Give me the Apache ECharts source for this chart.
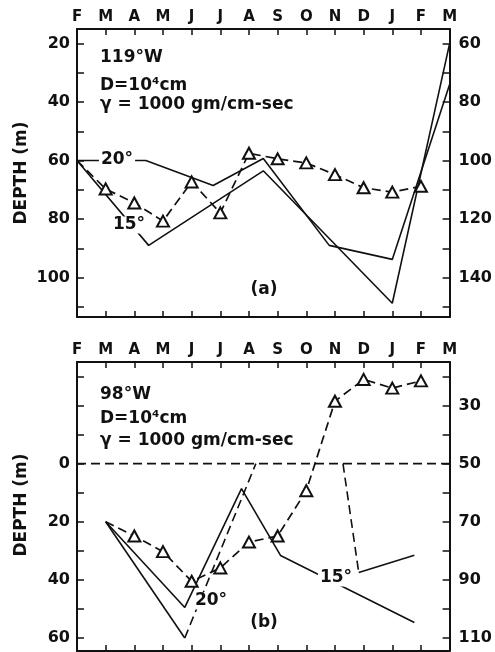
<!DOCTYPE html>
<html>
<head>
<meta charset="utf-8">
<script src="https://cdn.jsdelivr.net/npm/echarts@6/dist/echarts.min.js"></script>
<style>
  html, body { margin: 0; padding: 0; background: #fff; }
  #chart { width: 495px; height: 652px; }
</style>
</head>
<body>
<div id="chart"></div>
<script>
// Month labels along the top of each panel (index 0 = February ... 13 = March)
const months = ['F', 'M', 'A', 'M', 'J', 'J', 'A', 'S', 'O', 'N', 'D', 'J', 'F', 'M'];

// (a) 119°W — depths in metres, x = month index
const triangles119 = [60, 69.7, 74.5, 80.7, 67.3, 77.9, 57.5, 59.4, 60.8, 64.8, 69.3, 70.8, 68.8]; // months 0..12
const iso20_119 = [[0, 60], [2.4, 60], [4.75, 68.5], [6.5, 59.3], [8.8, 89], [11, 93.8], [13, 34]];
const iso15_119 = [[0, 60], [2.5, 89], [6.5, 63.5], [11, 108.8], [13, 20]];

// (b) 98°W
const triangles98 = [20, 24.9, 30.3, 40.5, 35.9, 27, 24.9, 9.3, -21.5, -29, -26, -28.5]; // months 1..12
const iso15_98 = [[1, 20], [3.76, 49.5], [5.74, 8.6], [7.1, 31.6], [11.77, 54.7]];
const iso20_98 = [[1, 20], [3.76, 60], [6.24, 0], [9.28, 0], [9.83, 37.5], [11.77, 31.5]];
const iso20_98Segments = ['solid', 'dashed', 'none', 'dashed', 'solid'];
const surface98 = [[0, 0], [13, 0]];

// Depth scales: left axis and the right-hand scale of each panel
const leftTicks119 = [20, 30, 40, 50, 60, 70, 80, 90, 100, 110];
const leftLabels119 = [20, 40, 60, 80, 100];
const rightTicks119 = [60, 70, 80, 90, 100, 110, 120, 130, 140, 150];
const rightLabels119 = [60, 80, 100, 120, 140];
const leftTicks98 = [-30, -20, -10, 0, 10, 20, 30, 40, 50, 60];
const leftLabels98 = [0, 20, 40, 60];
const rightTicks98 = [20, 30, 40, 50, 60, 70, 80, 90, 100, 110];
const rightLabels98 = [30, 50, 70, 90, 110];

const FONT = '"DejaVu Sans", sans-serif';
const INK = '#111';
const DASH = [9, 5];

function monthAxis(grid, pos, showLabels) {
  return {
    type: 'value', gridIndex: grid, position: pos, min: 0, max: 13, interval: 1,
    axisLine: { show: true, onZero: false, lineStyle: { color: INK, width: 2 } },
    axisTick: { show: true, inside: true, length: 6, lineStyle: { color: INK, width: 1.5 } },
    axisLabel: {
      show: showLabels, margin: 4, color: INK, fontFamily: FONT, fontWeight: 'bold', fontSize: 15,
      formatter: v => months[Math.round(v)]
    },
    splitLine: { show: false }
  };
}

function depthAxis(grid, pos, min, max, ticks, labels) {
  return {
    type: 'value', gridIndex: grid, position: pos, inverse: true, min: min, max: max,
    axisLine: { show: true, onZero: false, lineStyle: { color: INK, width: 2 } },
    axisTick: { show: true, inside: true, length: 7, customValues: ticks, lineStyle: { color: INK, width: 1.5 } },
    axisLabel: {
      customValues: labels, margin: pos === 'left' ? 7 : 9, color: INK,
      fontFamily: FONT, fontWeight: 'bold', fontSize: 16
    },
    splitLine: { show: false }
  };
}

function lineSeries(xAxis, yAxis, data, type, z) {
  return {
    type: 'line', xAxisIndex: xAxis, yAxisIndex: yAxis, data: data, symbol: 'none',
    silent: true, animation: false, z: z || 2,
    lineStyle: { color: INK, width: 1.6, type: type === 'dashed' ? DASH : 'solid' }
  };
}

function triangleSeries(xAxis, yAxis, values, startMonth) {
  return {
    type: 'line', xAxisIndex: xAxis, yAxisIndex: yAxis, animation: false, silent: true, z: 4,
    data: values.map((v, i) => i === 0
      ? { value: [startMonth + i, v], symbol: 'none' }
      : { value: [startMonth + i, v] }),
    symbol: 'triangle', symbolSize: [12, 11],
    itemStyle: { color: '#fff', borderColor: INK, borderWidth: 2 },
    lineStyle: { color: INK, width: 1.7, type: DASH }
  };
}

const series = [
  lineSeries(0, 0, iso20_119, 'solid'),
  lineSeries(0, 0, iso15_119, 'solid'),
  triangleSeries(0, 0, triangles119, 0),
  lineSeries(2, 2, iso15_98, 'solid'),
  lineSeries(2, 2, surface98, 'dashed'),
  triangleSeries(2, 2, triangles98, 1)
];
iso20_98Segments.forEach((style, i) => {
  if (style !== 'none') series.push(lineSeries(2, 2, [iso20_98[i], iso20_98[i + 1]], style));
});

function label(text, x, y, opts) {
  const o = opts || {};
  return {
    type: 'text', x: x, y: y, z: 100, rotation: o.rotation || 0, silent: true,
    style: {
      text: text, x: 0, y: 0, fill: INK,
      font: 'bold ' + (o.size || 17) + 'px ' + FONT,
      align: o.align || 'left', textAlign: o.align || 'left',
      verticalAlign: 'middle', textVerticalAlign: 'middle',
      backgroundColor: o.bg ? '#fff' : null, padding: o.bg ? [0, 2] : 0
    }
  };
}

const chart = echarts.init(document.getElementById('chart'), null, { renderer: 'canvas' });
chart.setOption({
  backgroundColor: '#fff',
  animation: false,
  grid: [
    { left: 77, width: 376, top: 29, height: 288 },
    { left: 77, width: 376, top: 362, height: 289 }
  ],
  xAxis: [
    monthAxis(0, 'top', true), monthAxis(0, 'bottom', false),
    monthAxis(1, 'top', true), monthAxis(1, 'bottom', false)
  ],
  yAxis: [
    depthAxis(0, 'left', 15, 113.5, leftTicks119, leftLabels119),
    depthAxis(0, 'right', 55, 153.5, rightTicks119, rightLabels119),
    depthAxis(1, 'left', -35, 64.5, leftTicks98, leftLabels98),
    depthAxis(1, 'right', 15, 114.5, rightTicks98, rightLabels98)
  ],
  series: series,
  graphic: [
    label('DEPTH (m)', 22, 173, { rotation: Math.PI / 2, align: 'center' }),
    label('DEPTH (m)', 22, 505, { rotation: Math.PI / 2, align: 'center' }),
    label('119°W', 100, 58),
    label('D=10⁴cm', 100, 86),
    label('γ = 1000 gm/cm-sec', 100, 105),
    label('98°W', 100, 395),
    label('D=10⁴cm', 100, 419),
    label('γ = 1000 gm/cm-sec', 100, 441),
    label('20°', 117, 160, { align: 'center', bg: true }),
    label('15°', 129, 225, { align: 'center', bg: true }),
    label('(a)', 264, 290, { align: 'center' }),
    label('20°', 211, 601, { align: 'center', bg: true }),
    label('15°', 336, 578, { align: 'center', bg: true }),
    label('(b)', 264, 623, { align: 'center' })
  ]
});
</script>
</body>
</html>
